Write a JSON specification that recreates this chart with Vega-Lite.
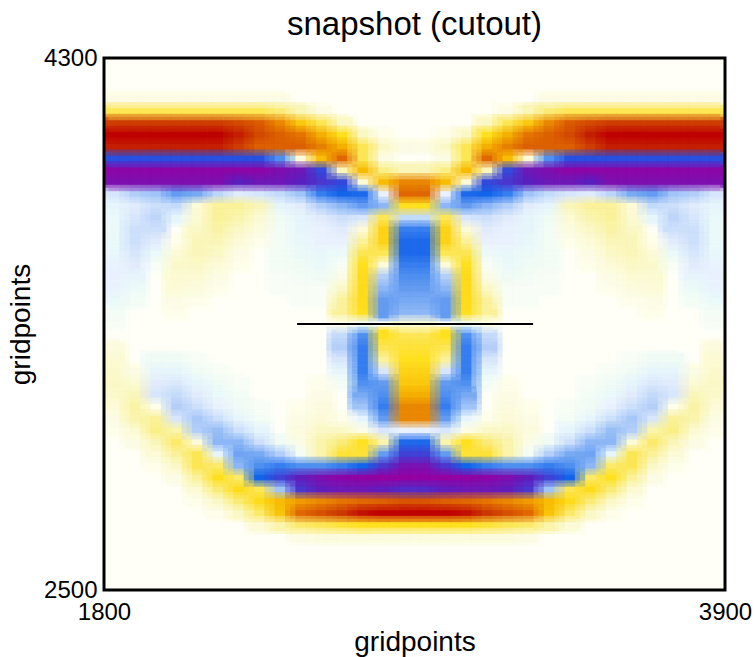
{"$schema":"https://vega.github.io/schema/vega-lite/v6.json","width":621,"height":532,"autosize":{"type":"none"},"padding":{"left":104,"top":58,"right":30,"bottom":67},"background":"white","view":{"fill":"#fffff8","stroke":null},"title":{"text":"snapshot (cutout)","font":"Liberation Sans","fontSize":33,"fontWeight":"normal","color":"black","offset":4,"anchor":"middle"},"config":{"font":"Liberation Sans"},"datasets":{"cells":[
{"x":1835,"y":4160,"v":3},{"x":1905,"y":4160,"v":3},{"x":1975,"y":4160,"v":3},{"x":2045,"y":4160,"v":3},{"x":2115,"y":4160,"v":3},{"x":2185,"y":4160,"v":3},{"x":2255,"y":4160,"v":3},{"x":2325,"y":4160,"v":3},{"x":2395,"y":4160,"v":3},{"x":3305,"y":4160,"v":3},{"x":3375,"y":4160,"v":3},{"x":3445,"y":4160,"v":3},{"x":3515,"y":4160,"v":3},{"x":3585,"y":4160,"v":3},{"x":3655,"y":4160,"v":3},{"x":3725,"y":4160,"v":3},{"x":3795,"y":4160,"v":3},{"x":3865,"y":4160,"v":3},
{"x":1835,"y":4120,"v":25},{"x":1905,"y":4120,"v":25},{"x":1975,"y":4120,"v":25},{"x":2045,"y":4120,"v":25},{"x":2115,"y":4120,"v":25},{"x":2185,"y":4120,"v":25},{"x":2255,"y":4120,"v":25},{"x":2325,"y":4120,"v":25},{"x":2395,"y":4120,"v":20},{"x":2465,"y":4120,"v":10},{"x":2535,"y":4120,"v":3},{"x":3165,"y":4120,"v":3},{"x":3235,"y":4120,"v":10},{"x":3305,"y":4120,"v":20},{"x":3375,"y":4120,"v":25},{"x":3445,"y":4120,"v":25},{"x":3515,"y":4120,"v":25},{"x":3585,"y":4120,"v":25},{"x":3655,"y":4120,"v":25},{"x":3725,"y":4120,"v":25},{"x":3795,"y":4120,"v":25},{"x":3865,"y":4120,"v":25},
{"x":1835,"y":4080,"v":85},{"x":1905,"y":4080,"v":85},{"x":1975,"y":4080,"v":85},{"x":2045,"y":4080,"v":85},{"x":2115,"y":4080,"v":85},{"x":2185,"y":4080,"v":85},{"x":2255,"y":4080,"v":80},{"x":2325,"y":4080,"v":72},{"x":2395,"y":4080,"v":60},{"x":2465,"y":4080,"v":40},{"x":2535,"y":4080,"v":25},{"x":2605,"y":4080,"v":8},{"x":3095,"y":4080,"v":8},{"x":3165,"y":4080,"v":25},{"x":3235,"y":4080,"v":40},{"x":3305,"y":4080,"v":60},{"x":3375,"y":4080,"v":72},{"x":3445,"y":4080,"v":80},{"x":3515,"y":4080,"v":85},{"x":3585,"y":4080,"v":85},{"x":3655,"y":4080,"v":85},{"x":3725,"y":4080,"v":85},{"x":3795,"y":4080,"v":85},{"x":3865,"y":4080,"v":85},
{"x":1835,"y":4040,"v":100},{"x":1905,"y":4040,"v":100},{"x":1975,"y":4040,"v":100},{"x":2045,"y":4040,"v":100},{"x":2115,"y":4040,"v":100},{"x":2185,"y":4040,"v":100},{"x":2255,"y":4040,"v":95},{"x":2325,"y":4040,"v":80},{"x":2395,"y":4040,"v":70},{"x":2465,"y":4040,"v":65},{"x":2535,"y":4040,"v":50},{"x":2605,"y":4040,"v":30},{"x":2675,"y":4040,"v":8},{"x":2745,"y":4040,"v":2},{"x":2955,"y":4040,"v":2},{"x":3025,"y":4040,"v":8},{"x":3095,"y":4040,"v":30},{"x":3165,"y":4040,"v":50},{"x":3235,"y":4040,"v":65},{"x":3305,"y":4040,"v":70},{"x":3375,"y":4040,"v":80},{"x":3445,"y":4040,"v":95},{"x":3515,"y":4040,"v":100},{"x":3585,"y":4040,"v":100},{"x":3655,"y":4040,"v":100},{"x":3725,"y":4040,"v":100},{"x":3795,"y":4040,"v":100},{"x":3865,"y":4040,"v":100},
{"x":1835,"y":4000,"v":95},{"x":1905,"y":4000,"v":95},{"x":1975,"y":4000,"v":95},{"x":2045,"y":4000,"v":95},{"x":2115,"y":4000,"v":95},{"x":2185,"y":4000,"v":95},{"x":2255,"y":4000,"v":85},{"x":2325,"y":4000,"v":70},{"x":2395,"y":4000,"v":70},{"x":2465,"y":4000,"v":70},{"x":2535,"y":4000,"v":62},{"x":2605,"y":4000,"v":50},{"x":2675,"y":4000,"v":25},{"x":2745,"y":4000,"v":8},{"x":2815,"y":4000,"v":3},{"x":2885,"y":4000,"v":3},{"x":2955,"y":4000,"v":8},{"x":3025,"y":4000,"v":25},{"x":3095,"y":4000,"v":50},{"x":3165,"y":4000,"v":62},{"x":3235,"y":4000,"v":70},{"x":3305,"y":4000,"v":70},{"x":3375,"y":4000,"v":70},{"x":3445,"y":4000,"v":85},{"x":3515,"y":4000,"v":95},{"x":3585,"y":4000,"v":95},{"x":3655,"y":4000,"v":95},{"x":3725,"y":4000,"v":95},{"x":3795,"y":4000,"v":95},{"x":3865,"y":4000,"v":95},
{"x":1835,"y":3960,"v":-68},{"x":1905,"y":3960,"v":-68},{"x":1975,"y":3960,"v":-68},{"x":2045,"y":3960,"v":-68},{"x":2115,"y":3960,"v":-68},{"x":2185,"y":3960,"v":-68},{"x":2255,"y":3960,"v":-68},{"x":2325,"y":3960,"v":-68},{"x":2395,"y":3960,"v":-50},{"x":2465,"y":3960,"v":5},{"x":2535,"y":3960,"v":45},{"x":2605,"y":3960,"v":68},{"x":2675,"y":3960,"v":25},{"x":2745,"y":3960,"v":3},{"x":2955,"y":3960,"v":3},{"x":3025,"y":3960,"v":25},{"x":3095,"y":3960,"v":68},{"x":3165,"y":3960,"v":45},{"x":3235,"y":3960,"v":5},{"x":3305,"y":3960,"v":-50},{"x":3375,"y":3960,"v":-68},{"x":3445,"y":3960,"v":-68},{"x":3515,"y":3960,"v":-68},{"x":3585,"y":3960,"v":-68},{"x":3655,"y":3960,"v":-68},{"x":3725,"y":3960,"v":-68},{"x":3795,"y":3960,"v":-68},{"x":3865,"y":3960,"v":-68},
{"x":1835,"y":3920,"v":-95},{"x":1905,"y":3920,"v":-95},{"x":1975,"y":3920,"v":-95},{"x":2045,"y":3920,"v":-95},{"x":2115,"y":3920,"v":-95},{"x":2185,"y":3920,"v":-95},{"x":2255,"y":3920,"v":-95},{"x":2325,"y":3920,"v":-95},{"x":2395,"y":3920,"v":-90},{"x":2465,"y":3920,"v":-85},{"x":2535,"y":3920,"v":-70},{"x":2605,"y":3920,"v":10},{"x":2675,"y":3920,"v":45},{"x":2745,"y":3920,"v":18},{"x":2815,"y":3920,"v":10},{"x":2885,"y":3920,"v":10},{"x":2955,"y":3920,"v":18},{"x":3025,"y":3920,"v":45},{"x":3095,"y":3920,"v":10},{"x":3165,"y":3920,"v":-70},{"x":3235,"y":3920,"v":-85},{"x":3305,"y":3920,"v":-90},{"x":3375,"y":3920,"v":-95},{"x":3445,"y":3920,"v":-95},{"x":3515,"y":3920,"v":-95},{"x":3585,"y":3920,"v":-95},{"x":3655,"y":3920,"v":-95},{"x":3725,"y":3920,"v":-95},{"x":3795,"y":3920,"v":-95},{"x":3865,"y":3920,"v":-95},
{"x":1835,"y":3880,"v":-90},{"x":1905,"y":3880,"v":-90},{"x":1975,"y":3880,"v":-90},{"x":2045,"y":3880,"v":-90},{"x":2115,"y":3880,"v":-90},{"x":2185,"y":3880,"v":-90},{"x":2255,"y":3880,"v":-80},{"x":2325,"y":3880,"v":-85},{"x":2395,"y":3880,"v":-85},{"x":2465,"y":3880,"v":-80},{"x":2535,"y":3880,"v":-75},{"x":2605,"y":3880,"v":-70},{"x":2675,"y":3880,"v":5},{"x":2745,"y":3880,"v":45},{"x":2815,"y":3880,"v":60},{"x":2885,"y":3880,"v":60},{"x":2955,"y":3880,"v":45},{"x":3025,"y":3880,"v":5},{"x":3095,"y":3880,"v":-70},{"x":3165,"y":3880,"v":-75},{"x":3235,"y":3880,"v":-80},{"x":3305,"y":3880,"v":-85},{"x":3375,"y":3880,"v":-85},{"x":3445,"y":3880,"v":-80},{"x":3515,"y":3880,"v":-90},{"x":3585,"y":3880,"v":-90},{"x":3655,"y":3880,"v":-90},{"x":3725,"y":3880,"v":-90},{"x":3795,"y":3880,"v":-90},{"x":3865,"y":3880,"v":-90},
{"x":1835,"y":3840,"v":-15},{"x":1905,"y":3840,"v":-25},{"x":1975,"y":3840,"v":-30},{"x":2045,"y":3840,"v":-45},{"x":2115,"y":3840,"v":-40},{"x":2185,"y":3840,"v":-22},{"x":2255,"y":3840,"v":-12},{"x":2325,"y":3840,"v":-15},{"x":2395,"y":3840,"v":-20},{"x":2465,"y":3840,"v":-30},{"x":2535,"y":3840,"v":-55},{"x":2605,"y":3840,"v":-62},{"x":2675,"y":3840,"v":-60},{"x":2745,"y":3840,"v":-10},{"x":2815,"y":3840,"v":68},{"x":2885,"y":3840,"v":68},{"x":2955,"y":3840,"v":-10},{"x":3025,"y":3840,"v":-60},{"x":3095,"y":3840,"v":-62},{"x":3165,"y":3840,"v":-55},{"x":3235,"y":3840,"v":-30},{"x":3305,"y":3840,"v":-20},{"x":3375,"y":3840,"v":-15},{"x":3445,"y":3840,"v":-12},{"x":3515,"y":3840,"v":-22},{"x":3585,"y":3840,"v":-40},{"x":3655,"y":3840,"v":-45},{"x":3725,"y":3840,"v":-30},{"x":3795,"y":3840,"v":-25},{"x":3865,"y":3840,"v":-15},
{"x":1835,"y":3800,"v":-8},{"x":1905,"y":3800,"v":-12},{"x":1975,"y":3800,"v":-18},{"x":2045,"y":3800,"v":-20},{"x":2115,"y":3800,"v":5},{"x":2185,"y":3800,"v":15},{"x":2255,"y":3800,"v":15},{"x":2325,"y":3800,"v":10},{"x":2395,"y":3800,"v":-8},{"x":2465,"y":3800,"v":-12},{"x":2535,"y":3800,"v":-25},{"x":2605,"y":3800,"v":-35},{"x":2675,"y":3800,"v":-45},{"x":2745,"y":3800,"v":-35},{"x":2815,"y":3800,"v":30},{"x":2885,"y":3800,"v":30},{"x":2955,"y":3800,"v":-35},{"x":3025,"y":3800,"v":-45},{"x":3095,"y":3800,"v":-35},{"x":3165,"y":3800,"v":-25},{"x":3235,"y":3800,"v":-12},{"x":3305,"y":3800,"v":-8},{"x":3375,"y":3800,"v":10},{"x":3445,"y":3800,"v":15},{"x":3515,"y":3800,"v":15},{"x":3585,"y":3800,"v":5},{"x":3655,"y":3800,"v":-20},{"x":3725,"y":3800,"v":-18},{"x":3795,"y":3800,"v":-12},{"x":3865,"y":3800,"v":-8},
{"x":1835,"y":3760,"v":-6},{"x":1905,"y":3760,"v":-15},{"x":1975,"y":3760,"v":-22},{"x":2045,"y":3760,"v":-8},{"x":2115,"y":3760,"v":6},{"x":2185,"y":3760,"v":15},{"x":2255,"y":3760,"v":12},{"x":2325,"y":3760,"v":6},{"x":2395,"y":3760,"v":-4},{"x":2465,"y":3760,"v":-8},{"x":2535,"y":3760,"v":-12},{"x":2605,"y":3760,"v":-18},{"x":2675,"y":3760,"v":-15},{"x":2745,"y":3760,"v":25},{"x":2815,"y":3760,"v":-20},{"x":2885,"y":3760,"v":-20},{"x":2955,"y":3760,"v":25},{"x":3025,"y":3760,"v":-15},{"x":3095,"y":3760,"v":-18},{"x":3165,"y":3760,"v":-12},{"x":3235,"y":3760,"v":-8},{"x":3305,"y":3760,"v":-4},{"x":3375,"y":3760,"v":6},{"x":3445,"y":3760,"v":12},{"x":3515,"y":3760,"v":15},{"x":3585,"y":3760,"v":6},{"x":3655,"y":3760,"v":-8},{"x":3725,"y":3760,"v":-22},{"x":3795,"y":3760,"v":-15},{"x":3865,"y":3760,"v":-6},
{"x":1835,"y":3720,"v":-5},{"x":1905,"y":3720,"v":-18},{"x":1975,"y":3720,"v":-18},{"x":2115,"y":3720,"v":8},{"x":2185,"y":3720,"v":13},{"x":2255,"y":3720,"v":8},{"x":2325,"y":3720,"v":4},{"x":2395,"y":3720,"v":-3},{"x":2465,"y":3720,"v":-8},{"x":2535,"y":3720,"v":-10},{"x":2605,"y":3720,"v":-12},{"x":2675,"y":3720,"v":5},{"x":2745,"y":3720,"v":35},{"x":2815,"y":3720,"v":-55},{"x":2885,"y":3720,"v":-55},{"x":2955,"y":3720,"v":35},{"x":3025,"y":3720,"v":5},{"x":3095,"y":3720,"v":-12},{"x":3165,"y":3720,"v":-10},{"x":3235,"y":3720,"v":-8},{"x":3305,"y":3720,"v":-3},{"x":3375,"y":3720,"v":4},{"x":3445,"y":3720,"v":8},{"x":3515,"y":3720,"v":13},{"x":3585,"y":3720,"v":8},{"x":3725,"y":3720,"v":-18},{"x":3795,"y":3720,"v":-18},{"x":3865,"y":3720,"v":-5},
{"x":1835,"y":3680,"v":-6},{"x":1905,"y":3680,"v":-18},{"x":1975,"y":3680,"v":-12},{"x":2045,"y":3680,"v":2},{"x":2115,"y":3680,"v":10},{"x":2185,"y":3680,"v":10},{"x":2255,"y":3680,"v":5},{"x":2325,"y":3680,"v":2},{"x":2395,"y":3680,"v":-3},{"x":2465,"y":3680,"v":-7},{"x":2535,"y":3680,"v":-10},{"x":2605,"y":3680,"v":-10},{"x":2675,"y":3680,"v":15},{"x":2745,"y":3680,"v":35},{"x":2815,"y":3680,"v":-60},{"x":2885,"y":3680,"v":-60},{"x":2955,"y":3680,"v":35},{"x":3025,"y":3680,"v":15},{"x":3095,"y":3680,"v":-10},{"x":3165,"y":3680,"v":-10},{"x":3235,"y":3680,"v":-7},{"x":3305,"y":3680,"v":-3},{"x":3375,"y":3680,"v":2},{"x":3445,"y":3680,"v":5},{"x":3515,"y":3680,"v":10},{"x":3585,"y":3680,"v":10},{"x":3655,"y":3680,"v":2},{"x":3725,"y":3680,"v":-12},{"x":3795,"y":3680,"v":-18},{"x":3865,"y":3680,"v":-6},
{"x":1835,"y":3640,"v":-7},{"x":1905,"y":3640,"v":-15},{"x":1975,"y":3640,"v":-6},{"x":2045,"y":3640,"v":5},{"x":2115,"y":3640,"v":10},{"x":2185,"y":3640,"v":8},{"x":2255,"y":3640,"v":3},{"x":2395,"y":3640,"v":-3},{"x":2465,"y":3640,"v":-5},{"x":2535,"y":3640,"v":-7},{"x":2605,"y":3640,"v":-5},{"x":2675,"y":3640,"v":25},{"x":2745,"y":3640,"v":25},{"x":2815,"y":3640,"v":-60},{"x":2885,"y":3640,"v":-60},{"x":2955,"y":3640,"v":25},{"x":3025,"y":3640,"v":25},{"x":3095,"y":3640,"v":-5},{"x":3165,"y":3640,"v":-7},{"x":3235,"y":3640,"v":-5},{"x":3305,"y":3640,"v":-3},{"x":3445,"y":3640,"v":3},{"x":3515,"y":3640,"v":8},{"x":3585,"y":3640,"v":10},{"x":3655,"y":3640,"v":5},{"x":3725,"y":3640,"v":-6},{"x":3795,"y":3640,"v":-15},{"x":3865,"y":3640,"v":-7},
{"x":1835,"y":3600,"v":-9},{"x":1905,"y":3600,"v":-12},{"x":1975,"y":3600,"v":-2},{"x":2045,"y":3600,"v":7},{"x":2115,"y":3600,"v":8},{"x":2185,"y":3600,"v":5},{"x":2255,"y":3600,"v":2},{"x":2395,"y":3600,"v":-3},{"x":2465,"y":3600,"v":-4},{"x":2535,"y":3600,"v":-6},{"x":2605,"y":3600,"v":-2},{"x":2675,"y":3600,"v":30},{"x":2745,"y":3600,"v":5},{"x":2815,"y":3600,"v":-55},{"x":2885,"y":3600,"v":-55},{"x":2955,"y":3600,"v":5},{"x":3025,"y":3600,"v":30},{"x":3095,"y":3600,"v":-2},{"x":3165,"y":3600,"v":-6},{"x":3235,"y":3600,"v":-4},{"x":3305,"y":3600,"v":-3},{"x":3445,"y":3600,"v":2},{"x":3515,"y":3600,"v":5},{"x":3585,"y":3600,"v":8},{"x":3655,"y":3600,"v":7},{"x":3725,"y":3600,"v":-2},{"x":3795,"y":3600,"v":-12},{"x":3865,"y":3600,"v":-9},
{"x":1835,"y":3560,"v":-10},{"x":1905,"y":3560,"v":-8},{"x":2045,"y":3560,"v":6},{"x":2115,"y":3560,"v":6},{"x":2185,"y":3560,"v":3},{"x":2395,"y":3560,"v":-2},{"x":2465,"y":3560,"v":-3},{"x":2535,"y":3560,"v":-4},{"x":2605,"y":3560,"v":3},{"x":2675,"y":3560,"v":32},{"x":2745,"y":3560,"v":-25},{"x":2815,"y":3560,"v":-50},{"x":2885,"y":3560,"v":-50},{"x":2955,"y":3560,"v":-25},{"x":3025,"y":3560,"v":32},{"x":3095,"y":3560,"v":3},{"x":3165,"y":3560,"v":-4},{"x":3235,"y":3560,"v":-3},{"x":3305,"y":3560,"v":-2},{"x":3515,"y":3560,"v":3},{"x":3585,"y":3560,"v":6},{"x":3655,"y":3560,"v":6},{"x":3795,"y":3560,"v":-8},{"x":3865,"y":3560,"v":-10},
{"x":1835,"y":3520,"v":-9},{"x":1905,"y":3520,"v":-5},{"x":2045,"y":3520,"v":5},{"x":2115,"y":3520,"v":4},{"x":2185,"y":3520,"v":2},{"x":2395,"y":3520,"v":-2},{"x":2465,"y":3520,"v":-2},{"x":2535,"y":3520,"v":-2},{"x":2605,"y":3520,"v":8},{"x":2675,"y":3520,"v":32},{"x":2745,"y":3520,"v":-35},{"x":2815,"y":3520,"v":-45},{"x":2885,"y":3520,"v":-45},{"x":2955,"y":3520,"v":-35},{"x":3025,"y":3520,"v":32},{"x":3095,"y":3520,"v":8},{"x":3165,"y":3520,"v":-2},{"x":3235,"y":3520,"v":-2},{"x":3305,"y":3520,"v":-2},{"x":3515,"y":3520,"v":2},{"x":3585,"y":3520,"v":4},{"x":3655,"y":3520,"v":5},{"x":3795,"y":3520,"v":-5},{"x":3865,"y":3520,"v":-9},
{"x":1835,"y":3480,"v":-6},{"x":1905,"y":3480,"v":-3},{"x":2045,"y":3480,"v":3},{"x":2115,"y":3480,"v":2},{"x":2465,"y":3480,"v":-2},{"x":2535,"y":3480,"v":-2},{"x":2605,"y":3480,"v":15},{"x":2675,"y":3480,"v":32},{"x":2745,"y":3480,"v":-45},{"x":2815,"y":3480,"v":-40},{"x":2885,"y":3480,"v":-40},{"x":2955,"y":3480,"v":-45},{"x":3025,"y":3480,"v":32},{"x":3095,"y":3480,"v":15},{"x":3165,"y":3480,"v":-2},{"x":3235,"y":3480,"v":-2},{"x":3585,"y":3480,"v":2},{"x":3655,"y":3480,"v":3},{"x":3795,"y":3480,"v":-3},{"x":3865,"y":3480,"v":-6},
{"x":1835,"y":3440,"v":-3},{"x":2045,"y":3440,"v":2},{"x":2605,"y":3440,"v":15},{"x":2675,"y":3440,"v":30},{"x":2745,"y":3440,"v":-45},{"x":2815,"y":3440,"v":-35},{"x":2885,"y":3440,"v":-35},{"x":2955,"y":3440,"v":-45},{"x":3025,"y":3440,"v":30},{"x":3095,"y":3440,"v":15},{"x":3655,"y":3440,"v":2},{"x":3865,"y":3440,"v":-3},
{"x":1835,"y":3400,"v":-2},{"x":2605,"y":3400,"v":2},{"x":2675,"y":3400,"v":-5},{"x":2815,"y":3400,"v":5},{"x":2885,"y":3400,"v":5},{"x":3025,"y":3400,"v":-5},{"x":3095,"y":3400,"v":2},{"x":3865,"y":3400,"v":-2},
{"x":2605,"y":3360,"v":-20},{"x":2675,"y":3360,"v":-50},{"x":2745,"y":3360,"v":30},{"x":2815,"y":3360,"v":25},{"x":2885,"y":3360,"v":25},{"x":2955,"y":3360,"v":30},{"x":3025,"y":3360,"v":-50},{"x":3095,"y":3360,"v":-20},
{"x":1835,"y":3320,"v":4},{"x":2605,"y":3320,"v":-25},{"x":2675,"y":3320,"v":-55},{"x":2745,"y":3320,"v":25},{"x":2815,"y":3320,"v":28},{"x":2885,"y":3320,"v":28},{"x":2955,"y":3320,"v":25},{"x":3025,"y":3320,"v":-55},{"x":3095,"y":3320,"v":-25},{"x":3865,"y":3320,"v":4},
{"x":1835,"y":3280,"v":6},{"x":1975,"y":3280,"v":-4},{"x":2045,"y":3280,"v":-4},{"x":2115,"y":3280,"v":-2},{"x":2605,"y":3280,"v":-15},{"x":2675,"y":3280,"v":-55},{"x":2745,"y":3280,"v":15},{"x":2815,"y":3280,"v":30},{"x":2885,"y":3280,"v":30},{"x":2955,"y":3280,"v":15},{"x":3025,"y":3280,"v":-55},{"x":3095,"y":3280,"v":-15},{"x":3585,"y":3280,"v":-2},{"x":3655,"y":3280,"v":-4},{"x":3725,"y":3280,"v":-4},{"x":3865,"y":3280,"v":6},
{"x":1835,"y":3240,"v":7},{"x":1905,"y":3240,"v":3},{"x":1975,"y":3240,"v":-8},{"x":2045,"y":3240,"v":-8},{"x":2115,"y":3240,"v":-4},{"x":2185,"y":3240,"v":-2},{"x":2605,"y":3240,"v":-8},{"x":2675,"y":3240,"v":-55},{"x":2745,"y":3240,"v":-15},{"x":2815,"y":3240,"v":35},{"x":2885,"y":3240,"v":35},{"x":2955,"y":3240,"v":-15},{"x":3025,"y":3240,"v":-55},{"x":3095,"y":3240,"v":-8},{"x":3515,"y":3240,"v":-2},{"x":3585,"y":3240,"v":-4},{"x":3655,"y":3240,"v":-8},{"x":3725,"y":3240,"v":-8},{"x":3795,"y":3240,"v":3},{"x":3865,"y":3240,"v":7},
{"x":1835,"y":3200,"v":8},{"x":1905,"y":3200,"v":6},{"x":1975,"y":3200,"v":-12},{"x":2045,"y":3200,"v":-14},{"x":2115,"y":3200,"v":-8},{"x":2185,"y":3200,"v":-4},{"x":2255,"y":3200,"v":-2},{"x":2535,"y":3200,"v":2},{"x":2605,"y":3200,"v":-3},{"x":2675,"y":3200,"v":-50},{"x":2745,"y":3200,"v":-45},{"x":2815,"y":3200,"v":40},{"x":2885,"y":3200,"v":40},{"x":2955,"y":3200,"v":-45},{"x":3025,"y":3200,"v":-50},{"x":3095,"y":3200,"v":-3},{"x":3165,"y":3200,"v":2},{"x":3445,"y":3200,"v":-2},{"x":3515,"y":3200,"v":-4},{"x":3585,"y":3200,"v":-8},{"x":3655,"y":3200,"v":-14},{"x":3725,"y":3200,"v":-12},{"x":3795,"y":3200,"v":6},{"x":3865,"y":3200,"v":8},
{"x":1835,"y":3160,"v":7},{"x":1905,"y":3160,"v":10},{"x":1975,"y":3160,"v":-15},{"x":2045,"y":3160,"v":-20},{"x":2115,"y":3160,"v":-12},{"x":2185,"y":3160,"v":-6},{"x":2255,"y":3160,"v":-3},{"x":2535,"y":3160,"v":3},{"x":2675,"y":3160,"v":-40},{"x":2745,"y":3160,"v":-50},{"x":2815,"y":3160,"v":50},{"x":2885,"y":3160,"v":50},{"x":2955,"y":3160,"v":-50},{"x":3025,"y":3160,"v":-40},{"x":3165,"y":3160,"v":3},{"x":3445,"y":3160,"v":-3},{"x":3515,"y":3160,"v":-6},{"x":3585,"y":3160,"v":-12},{"x":3655,"y":3160,"v":-20},{"x":3725,"y":3160,"v":-15},{"x":3795,"y":3160,"v":10},{"x":3865,"y":3160,"v":7},
{"x":1835,"y":3120,"v":5},{"x":1905,"y":3120,"v":13},{"x":1975,"y":3120,"v":2},{"x":2045,"y":3120,"v":-25},{"x":2115,"y":3120,"v":-18},{"x":2185,"y":3120,"v":-10},{"x":2255,"y":3120,"v":-4},{"x":2325,"y":3120,"v":-2},{"x":2465,"y":3120,"v":2},{"x":2535,"y":3120,"v":4},{"x":2675,"y":3120,"v":-30},{"x":2745,"y":3120,"v":-55},{"x":2815,"y":3120,"v":60},{"x":2885,"y":3120,"v":60},{"x":2955,"y":3120,"v":-55},{"x":3025,"y":3120,"v":-30},{"x":3165,"y":3120,"v":4},{"x":3235,"y":3120,"v":2},{"x":3375,"y":3120,"v":-2},{"x":3445,"y":3120,"v":-4},{"x":3515,"y":3120,"v":-10},{"x":3585,"y":3120,"v":-18},{"x":3655,"y":3120,"v":-25},{"x":3725,"y":3120,"v":2},{"x":3795,"y":3120,"v":13},{"x":3865,"y":3120,"v":5},
{"x":1835,"y":3080,"v":3},{"x":1905,"y":3080,"v":12},{"x":1975,"y":3080,"v":15},{"x":2045,"y":3080,"v":-15},{"x":2115,"y":3080,"v":-28},{"x":2185,"y":3080,"v":-18},{"x":2255,"y":3080,"v":-8},{"x":2325,"y":3080,"v":-3},{"x":2465,"y":3080,"v":3},{"x":2535,"y":3080,"v":5},{"x":2605,"y":3080,"v":2},{"x":2675,"y":3080,"v":-8},{"x":2745,"y":3080,"v":-45},{"x":2815,"y":3080,"v":60},{"x":2885,"y":3080,"v":60},{"x":2955,"y":3080,"v":-45},{"x":3025,"y":3080,"v":-8},{"x":3095,"y":3080,"v":2},{"x":3165,"y":3080,"v":5},{"x":3235,"y":3080,"v":3},{"x":3375,"y":3080,"v":-3},{"x":3445,"y":3080,"v":-8},{"x":3515,"y":3080,"v":-18},{"x":3585,"y":3080,"v":-28},{"x":3655,"y":3080,"v":-15},{"x":3725,"y":3080,"v":15},{"x":3795,"y":3080,"v":12},{"x":3865,"y":3080,"v":3},
{"x":1835,"y":3040,"v":2},{"x":1905,"y":3040,"v":6},{"x":1975,"y":3040,"v":18},{"x":2045,"y":3040,"v":12},{"x":2115,"y":3040,"v":-25},{"x":2185,"y":3040,"v":-32},{"x":2255,"y":3040,"v":-18},{"x":2325,"y":3040,"v":-8},{"x":2465,"y":3040,"v":4},{"x":2535,"y":3040,"v":8},{"x":2605,"y":3040,"v":8},{"x":2675,"y":3040,"v":3},{"x":2745,"y":3040,"v":-15},{"x":2815,"y":3040,"v":-10},{"x":2885,"y":3040,"v":-10},{"x":2955,"y":3040,"v":-15},{"x":3025,"y":3040,"v":3},{"x":3095,"y":3040,"v":8},{"x":3165,"y":3040,"v":8},{"x":3235,"y":3040,"v":4},{"x":3375,"y":3040,"v":-8},{"x":3445,"y":3040,"v":-18},{"x":3515,"y":3040,"v":-32},{"x":3585,"y":3040,"v":-25},{"x":3655,"y":3040,"v":12},{"x":3725,"y":3040,"v":18},{"x":3795,"y":3040,"v":6},{"x":3865,"y":3040,"v":2},
{"x":1905,"y":3000,"v":3},{"x":1975,"y":3000,"v":10},{"x":2045,"y":3000,"v":22},{"x":2115,"y":3000,"v":5},{"x":2185,"y":3000,"v":-35},{"x":2255,"y":3000,"v":-35},{"x":2325,"y":3000,"v":-18},{"x":2395,"y":3000,"v":-4},{"x":2465,"y":3000,"v":3},{"x":2535,"y":3000,"v":12},{"x":2605,"y":3000,"v":20},{"x":2675,"y":3000,"v":30},{"x":2745,"y":3000,"v":12},{"x":2815,"y":3000,"v":-60},{"x":2885,"y":3000,"v":-60},{"x":2955,"y":3000,"v":12},{"x":3025,"y":3000,"v":30},{"x":3095,"y":3000,"v":20},{"x":3165,"y":3000,"v":12},{"x":3235,"y":3000,"v":3},{"x":3305,"y":3000,"v":-4},{"x":3375,"y":3000,"v":-18},{"x":3445,"y":3000,"v":-35},{"x":3515,"y":3000,"v":-35},{"x":3585,"y":3000,"v":5},{"x":3655,"y":3000,"v":22},{"x":3725,"y":3000,"v":10},{"x":3795,"y":3000,"v":3},
{"x":1975,"y":2960,"v":5},{"x":2045,"y":2960,"v":15},{"x":2115,"y":2960,"v":25},{"x":2185,"y":2960,"v":-8},{"x":2255,"y":2960,"v":-42},{"x":2325,"y":2960,"v":-40},{"x":2395,"y":2960,"v":-25},{"x":2465,"y":2960,"v":-3},{"x":2535,"y":2960,"v":12},{"x":2605,"y":2960,"v":28},{"x":2675,"y":2960,"v":28},{"x":2745,"y":2960,"v":-45},{"x":2815,"y":2960,"v":-72},{"x":2885,"y":2960,"v":-72},{"x":2955,"y":2960,"v":-45},{"x":3025,"y":2960,"v":28},{"x":3095,"y":2960,"v":28},{"x":3165,"y":2960,"v":12},{"x":3235,"y":2960,"v":-3},{"x":3305,"y":2960,"v":-25},{"x":3375,"y":2960,"v":-40},{"x":3445,"y":2960,"v":-42},{"x":3515,"y":2960,"v":-8},{"x":3585,"y":2960,"v":25},{"x":3655,"y":2960,"v":15},{"x":3725,"y":2960,"v":5},
{"x":1975,"y":2920,"v":2},{"x":2045,"y":2920,"v":8},{"x":2115,"y":2920,"v":25},{"x":2185,"y":2920,"v":22},{"x":2255,"y":2920,"v":-35},{"x":2325,"y":2920,"v":-50},{"x":2395,"y":2920,"v":-55},{"x":2465,"y":2920,"v":-50},{"x":2535,"y":2920,"v":-50},{"x":2605,"y":2920,"v":-55},{"x":2675,"y":2920,"v":-62},{"x":2745,"y":2920,"v":-75},{"x":2815,"y":2920,"v":-88},{"x":2885,"y":2920,"v":-88},{"x":2955,"y":2920,"v":-75},{"x":3025,"y":2920,"v":-62},{"x":3095,"y":2920,"v":-55},{"x":3165,"y":2920,"v":-50},{"x":3235,"y":2920,"v":-50},{"x":3305,"y":2920,"v":-55},{"x":3375,"y":2920,"v":-50},{"x":3445,"y":2920,"v":-35},{"x":3515,"y":2920,"v":22},{"x":3585,"y":2920,"v":25},{"x":3655,"y":2920,"v":8},{"x":3725,"y":2920,"v":2},
{"x":2045,"y":2880,"v":3},{"x":2115,"y":2880,"v":15},{"x":2185,"y":2880,"v":30},{"x":2255,"y":2880,"v":22},{"x":2325,"y":2880,"v":-62},{"x":2395,"y":2880,"v":-72},{"x":2465,"y":2880,"v":-82},{"x":2535,"y":2880,"v":-90},{"x":2605,"y":2880,"v":-95},{"x":2675,"y":2880,"v":-97},{"x":2745,"y":2880,"v":-98},{"x":2815,"y":2880,"v":-98},{"x":2885,"y":2880,"v":-98},{"x":2955,"y":2880,"v":-98},{"x":3025,"y":2880,"v":-97},{"x":3095,"y":2880,"v":-95},{"x":3165,"y":2880,"v":-90},{"x":3235,"y":2880,"v":-82},{"x":3305,"y":2880,"v":-72},{"x":3375,"y":2880,"v":-62},{"x":3445,"y":2880,"v":22},{"x":3515,"y":2880,"v":30},{"x":3585,"y":2880,"v":15},{"x":3655,"y":2880,"v":3},
{"x":2115,"y":2840,"v":6},{"x":2185,"y":2840,"v":20},{"x":2255,"y":2840,"v":32},{"x":2325,"y":2840,"v":25},{"x":2395,"y":2840,"v":-30},{"x":2465,"y":2840,"v":-75},{"x":2535,"y":2840,"v":-82},{"x":2605,"y":2840,"v":-85},{"x":2675,"y":2840,"v":-85},{"x":2745,"y":2840,"v":-82},{"x":2815,"y":2840,"v":-78},{"x":2885,"y":2840,"v":-78},{"x":2955,"y":2840,"v":-82},{"x":3025,"y":2840,"v":-85},{"x":3095,"y":2840,"v":-85},{"x":3165,"y":2840,"v":-82},{"x":3235,"y":2840,"v":-75},{"x":3305,"y":2840,"v":-30},{"x":3375,"y":2840,"v":25},{"x":3445,"y":2840,"v":32},{"x":3515,"y":2840,"v":20},{"x":3585,"y":2840,"v":6},
{"x":2115,"y":2800,"v":2},{"x":2185,"y":2800,"v":8},{"x":2255,"y":2800,"v":20},{"x":2325,"y":2800,"v":32},{"x":2395,"y":2800,"v":45},{"x":2465,"y":2800,"v":55},{"x":2535,"y":2800,"v":60},{"x":2605,"y":2800,"v":65},{"x":2675,"y":2800,"v":68},{"x":2745,"y":2800,"v":70},{"x":2815,"y":2800,"v":75},{"x":2885,"y":2800,"v":75},{"x":2955,"y":2800,"v":70},{"x":3025,"y":2800,"v":68},{"x":3095,"y":2800,"v":65},{"x":3165,"y":2800,"v":60},{"x":3235,"y":2800,"v":55},{"x":3305,"y":2800,"v":45},{"x":3375,"y":2800,"v":32},{"x":3445,"y":2800,"v":20},{"x":3515,"y":2800,"v":8},{"x":3585,"y":2800,"v":2},
{"x":2185,"y":2760,"v":2},{"x":2255,"y":2760,"v":8},{"x":2325,"y":2760,"v":22},{"x":2395,"y":2760,"v":42},{"x":2465,"y":2760,"v":68},{"x":2535,"y":2760,"v":78},{"x":2605,"y":2760,"v":88},{"x":2675,"y":2760,"v":98},{"x":2745,"y":2760,"v":100},{"x":2815,"y":2760,"v":100},{"x":2885,"y":2760,"v":100},{"x":2955,"y":2760,"v":100},{"x":3025,"y":2760,"v":98},{"x":3095,"y":2760,"v":88},{"x":3165,"y":2760,"v":78},{"x":3235,"y":2760,"v":68},{"x":3305,"y":2760,"v":42},{"x":3375,"y":2760,"v":22},{"x":3445,"y":2760,"v":8},{"x":3515,"y":2760,"v":2},
{"x":2325,"y":2720,"v":5},{"x":2395,"y":2720,"v":12},{"x":2465,"y":2720,"v":22},{"x":2535,"y":2720,"v":25},{"x":2605,"y":2720,"v":28},{"x":2675,"y":2720,"v":30},{"x":2745,"y":2720,"v":30},{"x":2815,"y":2720,"v":30},{"x":2885,"y":2720,"v":30},{"x":2955,"y":2720,"v":30},{"x":3025,"y":2720,"v":30},{"x":3095,"y":2720,"v":28},{"x":3165,"y":2720,"v":25},{"x":3235,"y":2720,"v":22},{"x":3305,"y":2720,"v":12},{"x":3375,"y":2720,"v":5},
{"x":2465,"y":2680,"v":3},{"x":2535,"y":2680,"v":4},{"x":2605,"y":2680,"v":4},{"x":2675,"y":2680,"v":4},{"x":2745,"y":2680,"v":4},{"x":2815,"y":2680,"v":4},{"x":2885,"y":2680,"v":4},{"x":2955,"y":2680,"v":4},{"x":3025,"y":2680,"v":4},{"x":3095,"y":2680,"v":4},{"x":3165,"y":2680,"v":4},{"x":3235,"y":2680,"v":3}
]},"layer":[{"data":{"name":"cells"},"encoding":{"x":{"field":"x","type":"quantitative","scale":{"domain":[1800,3900],"nice":false,"zero":false},"axis":{"values":[1800,3900],"format":"d","title":"gridpoints","titleFont":"Liberation Sans","titleFontSize":28,"titleFontWeight":"normal","titleColor":"black","titlePadding":4,"labelFont":"Liberation Sans","labelFontSize":24,"labelColor":"black","labelPadding":10,"ticks":false,"domain":false,"grid":false,"labelOverlap":false,"labelFlush":false}},"y":{"field":"y","type":"quantitative","scale":{"domain":[2500,4300],"nice":false,"zero":false},"axis":{"values":[2500,4300],"format":"d","title":"gridpoints","titleFont":"Liberation Sans","titleFontSize":28,"titleFontWeight":"normal","titleColor":"black","titlePadding":8,"labelFont":"Liberation Sans","labelFontSize":24,"labelColor":"black","labelPadding":7,"ticks":false,"domain":false,"grid":false,"labelOverlap":false,"labelFlush":false}},"color":{"field":"v","type":"quantitative","legend":null,"scale":{"domain":[-100,-80,-65,-50,-30,-10,0,30,50,70,100],"range":["#9800a0","#5a20c0","#0058e8","#4f90f0","#a0c4f8","#eaf2fe","#fffff8","#ffe020","#f5b000","#dd6000","#c00000"]}}},"layer":[
{"mark":{"type":"rect","width":21.2,"height":12.3,"clip":true}},
{"mark":{"type":"rect","width":21.2,"height":12.3,"clip":true,"opacity":0.5},"encoding":{"xOffset":{"value":-5},"yOffset":{"value":-3}}},
{"mark":{"type":"rect","width":21.2,"height":12.3,"clip":true,"opacity":0.33},"encoding":{"xOffset":{"value":5},"yOffset":{"value":3}}},
{"mark":{"type":"rect","width":21.2,"height":12.3,"clip":true,"opacity":0.25},"encoding":{"xOffset":{"value":-5},"yOffset":{"value":3}}},
{"mark":{"type":"rect","width":21.2,"height":12.3,"clip":true,"opacity":0.2},"encoding":{"xOffset":{"value":5},"yOffset":{"value":-3}}}
]},
{"data":{"values":[{"x":2453,"y":3400},{"x":3251,"y":3400}]},"mark":{"type":"line","color":"black","strokeWidth":2},"encoding":{"x":{"field":"x","type":"quantitative"},"y":{"field":"y","type":"quantitative"}}},
{"data":{"values":[{"x":1800,"x2":3900,"y":2500,"y2":4300}]},"mark":{"type":"rect","fill":null,"stroke":"black","strokeWidth":3},"encoding":{"x":{"field":"x","type":"quantitative"},"x2":{"field":"x2"},"y":{"field":"y","type":"quantitative"},"y2":{"field":"y2"}}}
]}
